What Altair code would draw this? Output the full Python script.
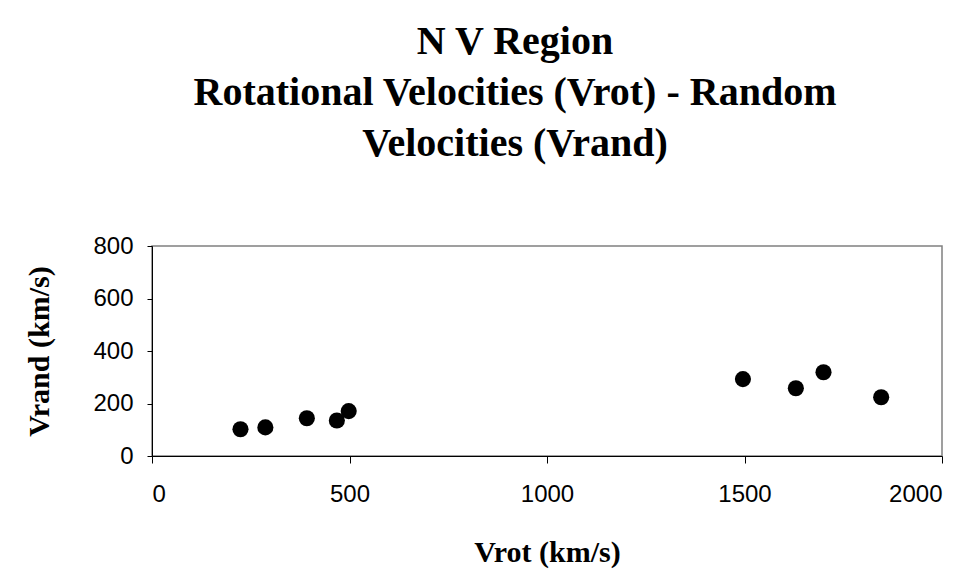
import altair as alt
import pandas as pd

vrot = [224, 287, 392, 468, 498, 1496, 1630, 1700, 1846]
vrand = [102, 109, 144, 135, 171, 293, 258, 319, 224]

title_lines = ["N V Region", "Rotational Velocities (Vrot) - Random", "Velocities (Vrand)"]
x_ticks = [0, 500, 1000, 1500, 2000]
y_ticks = [0, 200, 400, 600, 800]

df = pd.DataFrame({"Vrot": vrot, "Vrand": vrand})

chart = (
    alt.Chart(df)
    .mark_circle(size=260, color="black", opacity=1)
    .encode(
        x=alt.X(
            "Vrot:Q",
            scale=alt.Scale(domain=[0, 2000], nice=False, zero=False),
            axis=alt.Axis(
                values=x_ticks,
                format="d",
                title="Vrot (km/s)",
                grid=False,
                domainColor="black",
                tickColor="black",
                tickSize=7,
                labelPadding=19,
                labelFont="Liberation Sans",
                labelFontSize=24,
                labelColor="black",
                titleFont="Liberation Serif",
                titleFontSize=30,
                titleFontWeight="bold",
                titleColor="black",
                titlePadding=31,
            ),
        ),
        y=alt.Y(
            "Vrand:Q",
            scale=alt.Scale(domain=[0, 800], nice=False),
            axis=alt.Axis(
                values=y_ticks,
                format="d",
                title="Vrand (km/s)",
                grid=False,
                domainColor="black",
                tickColor="black",
                tickSize=5,
                labelPadding=14,
                labelFont="Liberation Sans",
                labelFontSize=24,
                labelColor="black",
                titleFont="Liberation Serif",
                titleFontSize=30,
                titleFontWeight="bold",
                titleColor="black",
                titlePadding=38,
            ),
        ),
    )
    .properties(
        width=790,
        height=210,
        title=alt.TitleParams(
            text=title_lines,
            font="Liberation Serif",
            fontSize=40,
            fontWeight="bold",
            color="black",
            lineHeight=51,
            anchor="middle",
            frame="group",
            dx=-32,
            offset=70,
        ),
        autosize=alt.AutoSizeParams(type="none"),
        padding={"left": 144, "top": 238, "right": 20, "bottom": 128},
        background="white",
    )
    .configure_view(stroke="#808080", strokeWidth=1.5)
)

chart.save("out.html", embed_options={"renderer": "svg", "actions": False})
